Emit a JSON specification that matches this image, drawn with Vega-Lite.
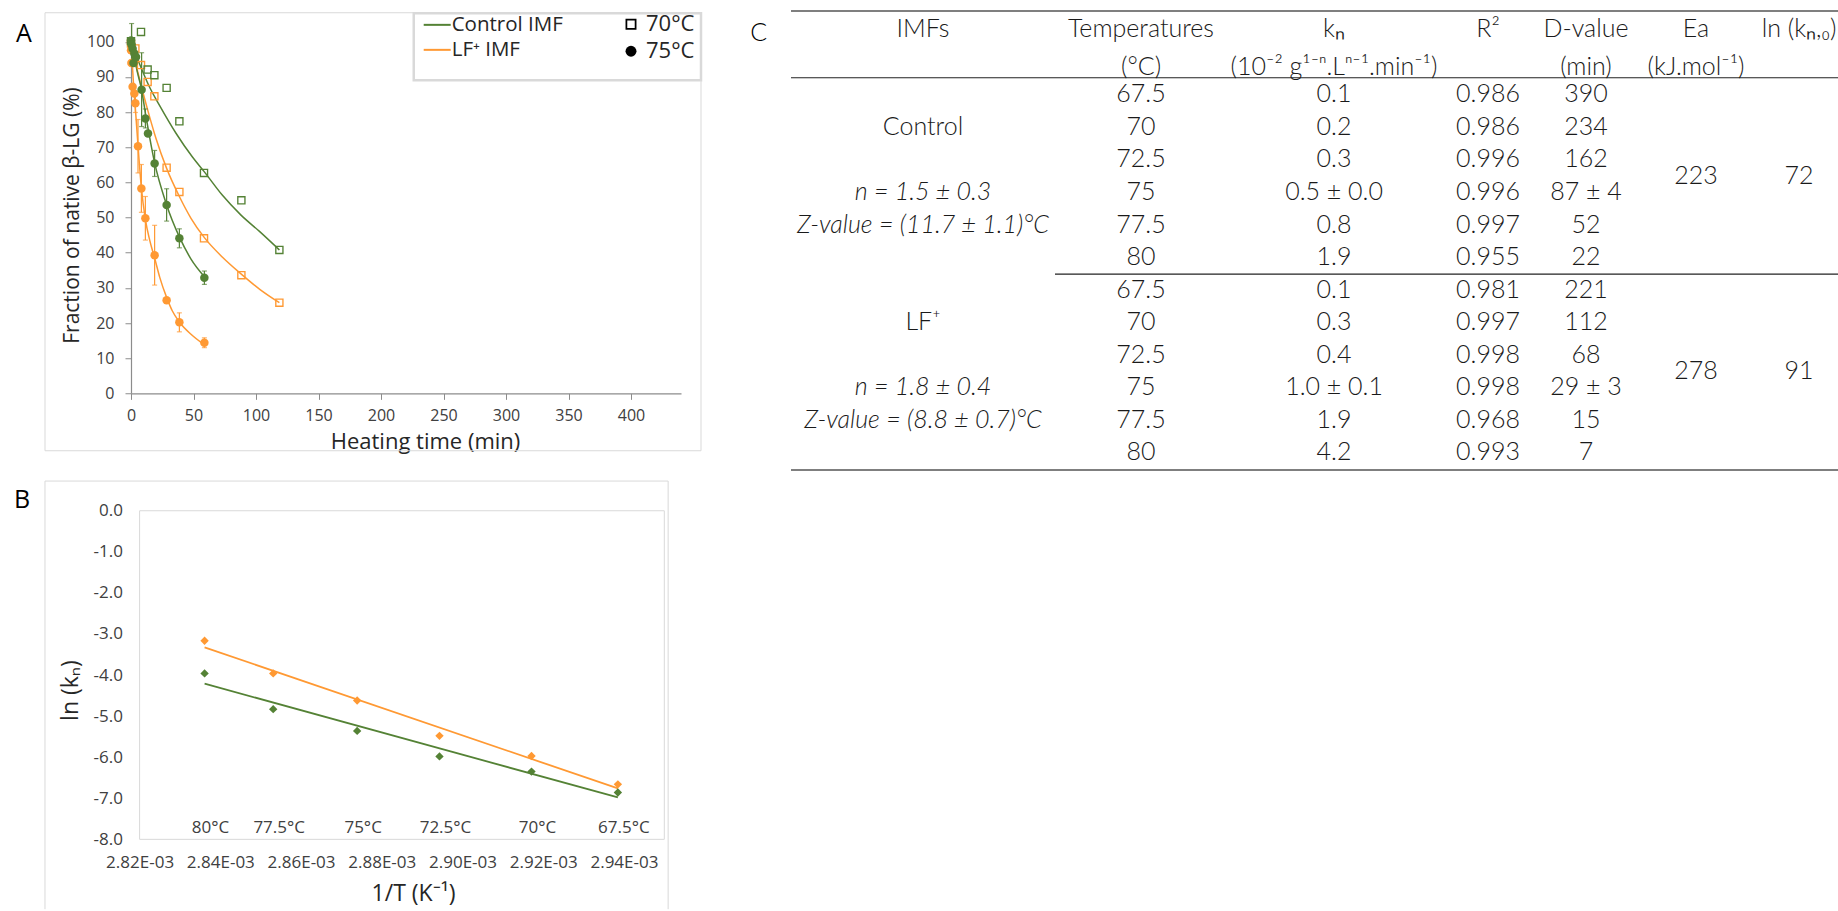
{
"$schema": "https://vega.github.io/schema/vega-lite/v6.json",
"background": "white",
"padding": {"left": 13, "top": 10.25, "right": 0, "bottom": 0},
"bounds": "flush",
"columns": 2,
"spacing": {"row": 40.5, "column": 110},
"config": {
  "font": "Open Sans",
  "view": {"stroke": null},
  "axis": {"grid": false, "labelFont": "Open Sans", "titleFont": "Open Sans", "titleFontWeight": "normal", "labelColor": "#404040", "titleColor": "#262626", "domainColor": "#8c8c8c", "tickColor": "#8c8c8c", "labelFlush": false, "labelOverlap": false, "labelBound": false},
  "legend": {"labelFont": "Open Sans", "labelColor": "#262626"}
},
"datasets": {
  "pA": [
    {"imf": "LF⁺ IMF", "temp": "70°C", "t": 0, "frac": 99.5},
    {"imf": "LF⁺ IMF", "temp": "70°C", "t": 3.5, "frac": 98.1},
    {"imf": "LF⁺ IMF", "temp": "70°C", "t": 8, "frac": 93.4},
    {"imf": "LF⁺ IMF", "temp": "70°C", "t": 13.3, "frac": 88.6},
    {"imf": "LF⁺ IMF", "temp": "70°C", "t": 18.7, "frac": 84.5},
    {"imf": "LF⁺ IMF", "temp": "70°C", "t": 28.5, "frac": 64.2},
    {"imf": "LF⁺ IMF", "temp": "70°C", "t": 38.7, "frac": 57.3},
    {"imf": "LF⁺ IMF", "temp": "70°C", "t": 58.4, "frac": 44.1},
    {"imf": "LF⁺ IMF", "temp": "70°C", "t": 88.3, "frac": 33.6},
    {"imf": "LF⁺ IMF", "temp": "70°C", "t": 118.7, "frac": 25.8},
    {"imf": "LF⁺ IMF", "temp": "75°C", "t": 0, "frac": 97.6},
    {"imf": "LF⁺ IMF", "temp": "75°C", "t": 0.3, "frac": 94.0},
    {"imf": "LF⁺ IMF", "temp": "75°C", "t": 1.3, "frac": 87.2},
    {"imf": "LF⁺ IMF", "temp": "75°C", "t": 2.7, "frac": 85.3},
    {"imf": "LF⁺ IMF", "temp": "75°C", "t": 3.5, "frac": 82.5, "err": 2.6},
    {"imf": "LF⁺ IMF", "temp": "75°C", "t": 5.6, "frac": 70.3, "err": 7.6},
    {"imf": "LF⁺ IMF", "temp": "75°C", "t": 8.3, "frac": 58.3, "err": 6.8},
    {"imf": "LF⁺ IMF", "temp": "75°C", "t": 11.5, "frac": 49.8, "err": 6.2},
    {"imf": "LF⁺ IMF", "temp": "75°C", "t": 18.9, "frac": 39.3, "err": 8.5},
    {"imf": "LF⁺ IMF", "temp": "75°C", "t": 28.5, "frac": 26.5},
    {"imf": "LF⁺ IMF", "temp": "75°C", "t": 38.7, "frac": 20.2, "err": 2.7},
    {"imf": "LF⁺ IMF", "temp": "75°C", "t": 58.7, "frac": 14.4, "err": 1.4},
    {"imf": "Control IMF", "temp": "70°C", "t": 0, "frac": 100.2},
    {"imf": "Control IMF", "temp": "70°C", "t": 8, "frac": 102.8},
    {"imf": "Control IMF", "temp": "70°C", "t": 13.3, "frac": 92.1},
    {"imf": "Control IMF", "temp": "70°C", "t": 18.7, "frac": 90.5},
    {"imf": "Control IMF", "temp": "70°C", "t": 28.5, "frac": 86.9},
    {"imf": "Control IMF", "temp": "70°C", "t": 38.7, "frac": 77.4},
    {"imf": "Control IMF", "temp": "70°C", "t": 58.4, "frac": 62.7},
    {"imf": "Control IMF", "temp": "70°C", "t": 88.3, "frac": 54.9},
    {"imf": "Control IMF", "temp": "70°C", "t": 118.7, "frac": 40.8},
    {"imf": "Control IMF", "temp": "75°C", "t": 0, "frac": 100.4},
    {"imf": "Control IMF", "temp": "75°C", "t": 0.5, "frac": 99.2, "err": 6},
    {"imf": "Control IMF", "temp": "75°C", "t": 1.3, "frac": 98.0},
    {"imf": "Control IMF", "temp": "75°C", "t": 2, "frac": 94.0},
    {"imf": "Control IMF", "temp": "75°C", "t": 2.7, "frac": 96.7},
    {"imf": "Control IMF", "temp": "75°C", "t": 4, "frac": 95.7},
    {"imf": "Control IMF", "temp": "75°C", "t": 8.5, "frac": 86.4, "err": 10.5},
    {"imf": "Control IMF", "temp": "75°C", "t": 11.5, "frac": 78.2, "err": 2.7},
    {"imf": "Control IMF", "temp": "75°C", "t": 13.6, "frac": 73.9},
    {"imf": "Control IMF", "temp": "75°C", "t": 18.9, "frac": 65.4, "err": 3.7},
    {"imf": "Control IMF", "temp": "75°C", "t": 28.5, "frac": 53.6, "err": 4.6},
    {"imf": "Control IMF", "temp": "75°C", "t": 38.7, "frac": 44.1, "err": 2.7},
    {"imf": "Control IMF", "temp": "75°C", "t": 58.7, "frac": 32.9, "err": 1.9}
  ],
  "cA": [
    {"imf": "Control IMF", "temp": "70°C", "t": 0, "frac": 100},
    {"imf": "Control IMF", "temp": "70°C", "t": 5, "frac": 95.3},
    {"imf": "Control IMF", "temp": "70°C", "t": 10, "frac": 91},
    {"imf": "Control IMF", "temp": "70°C", "t": 15, "frac": 87},
    {"imf": "Control IMF", "temp": "70°C", "t": 22.7, "frac": 82},
    {"imf": "Control IMF", "temp": "70°C", "t": 36, "frac": 74},
    {"imf": "Control IMF", "temp": "70°C", "t": 49, "frac": 67.3},
    {"imf": "Control IMF", "temp": "70°C", "t": 58.7, "frac": 63},
    {"imf": "Control IMF", "temp": "70°C", "t": 73, "frac": 56.4},
    {"imf": "Control IMF", "temp": "70°C", "t": 88, "frac": 50.7},
    {"imf": "Control IMF", "temp": "70°C", "t": 103, "frac": 46},
    {"imf": "Control IMF", "temp": "70°C", "t": 118.7, "frac": 40.8},
    {"imf": "LF⁺ IMF", "temp": "70°C", "t": 0, "frac": 99},
    {"imf": "LF⁺ IMF", "temp": "70°C", "t": 5, "frac": 92},
    {"imf": "LF⁺ IMF", "temp": "70°C", "t": 10, "frac": 85},
    {"imf": "LF⁺ IMF", "temp": "70°C", "t": 15, "frac": 78.5},
    {"imf": "LF⁺ IMF", "temp": "70°C", "t": 20, "frac": 72.5},
    {"imf": "LF⁺ IMF", "temp": "70°C", "t": 28.5, "frac": 64},
    {"imf": "LF⁺ IMF", "temp": "70°C", "t": 38.7, "frac": 56},
    {"imf": "LF⁺ IMF", "temp": "70°C", "t": 48, "frac": 49.8},
    {"imf": "LF⁺ IMF", "temp": "70°C", "t": 58.7, "frac": 44.3},
    {"imf": "LF⁺ IMF", "temp": "70°C", "t": 73, "frac": 38.8},
    {"imf": "LF⁺ IMF", "temp": "70°C", "t": 88, "frac": 34},
    {"imf": "LF⁺ IMF", "temp": "70°C", "t": 103, "frac": 29.6},
    {"imf": "LF⁺ IMF", "temp": "70°C", "t": 118.7, "frac": 25.8},
    {"imf": "Control IMF", "temp": "75°C", "t": 0, "frac": 100.5},
    {"imf": "Control IMF", "temp": "75°C", "t": 2, "frac": 97},
    {"imf": "Control IMF", "temp": "75°C", "t": 5, "frac": 91.5},
    {"imf": "Control IMF", "temp": "75°C", "t": 8, "frac": 87.2},
    {"imf": "Control IMF", "temp": "75°C", "t": 12, "frac": 78.7},
    {"imf": "Control IMF", "temp": "75°C", "t": 18.7, "frac": 65.9},
    {"imf": "Control IMF", "temp": "75°C", "t": 28.5, "frac": 53.6},
    {"imf": "Control IMF", "temp": "75°C", "t": 38.7, "frac": 44.5},
    {"imf": "Control IMF", "temp": "75°C", "t": 48, "frac": 38.2},
    {"imf": "Control IMF", "temp": "75°C", "t": 58.7, "frac": 33.2},
    {"imf": "LF⁺ IMF", "temp": "75°C", "t": 0, "frac": 100},
    {"imf": "LF⁺ IMF", "temp": "75°C", "t": 1, "frac": 94},
    {"imf": "LF⁺ IMF", "temp": "75°C", "t": 2, "frac": 88},
    {"imf": "LF⁺ IMF", "temp": "75°C", "t": 3.5, "frac": 81},
    {"imf": "LF⁺ IMF", "temp": "75°C", "t": 5.6, "frac": 70.5},
    {"imf": "LF⁺ IMF", "temp": "75°C", "t": 8.3, "frac": 58.5},
    {"imf": "LF⁺ IMF", "temp": "75°C", "t": 11.5, "frac": 49.5},
    {"imf": "LF⁺ IMF", "temp": "75°C", "t": 15, "frac": 43.5},
    {"imf": "LF⁺ IMF", "temp": "75°C", "t": 18.9, "frac": 38.5},
    {"imf": "LF⁺ IMF", "temp": "75°C", "t": 23, "frac": 33},
    {"imf": "LF⁺ IMF", "temp": "75°C", "t": 28.5, "frac": 27.3},
    {"imf": "LF⁺ IMF", "temp": "75°C", "t": 33, "frac": 23.5},
    {"imf": "LF⁺ IMF", "temp": "75°C", "t": 38.7, "frac": 20.3},
    {"imf": "LF⁺ IMF", "temp": "75°C", "t": 48, "frac": 16.8},
    {"imf": "LF⁺ IMF", "temp": "75°C", "t": 58.7, "frac": 13.8}
  ],
  "pB": [
    {"imf": "LF⁺ IMF", "temp": "80°C", "invT": 0.0028361, "ln": -3.165},
    {"imf": "LF⁺ IMF", "temp": "77.5°C", "invT": 0.0028531, "ln": -3.96},
    {"imf": "LF⁺ IMF", "temp": "75°C", "invT": 0.0028739, "ln": -4.62},
    {"imf": "LF⁺ IMF", "temp": "72.5°C", "invT": 0.0028943, "ln": -5.48},
    {"imf": "LF⁺ IMF", "temp": "70°C", "invT": 0.0029171, "ln": -5.97},
    {"imf": "LF⁺ IMF", "temp": "67.5°C", "invT": 0.0029385, "ln": -6.66},
    {"imf": "Control IMF", "temp": "80°C", "invT": 0.0028361, "ln": -3.96},
    {"imf": "Control IMF", "temp": "77.5°C", "invT": 0.0028531, "ln": -4.83},
    {"imf": "Control IMF", "temp": "75°C", "invT": 0.0028739, "ln": -5.36},
    {"imf": "Control IMF", "temp": "72.5°C", "invT": 0.0028943, "ln": -5.98},
    {"imf": "Control IMF", "temp": "70°C", "invT": 0.0029171, "ln": -6.35},
    {"imf": "Control IMF", "temp": "67.5°C", "invT": 0.0029385, "ln": -6.86}
  ],
  "fB": [
    {"imf": "LF⁺ IMF", "invT": 0.0028361, "ln": -3.325},
    {"imf": "LF⁺ IMF", "invT": 0.0029385, "ln": -6.76},
    {"imf": "Control IMF", "invT": 0.0028361, "ln": -4.21},
    {"imf": "Control IMF", "invT": 0.0029385, "ln": -6.98}
  ],
  "tC": [
    {"col": 1, "row": 1, "text": "IMFs"},
    {"col": 2, "row": 1, "text": "Temperatures"},
    {"col": 2, "row": 2, "text": "(°C)"},
    {"col": 3, "row": 1, "text": "kₙ"},
    {"col": 3, "row": 2, "text": "(10⁻² g¹⁻ⁿ.Lⁿ⁻¹.min⁻¹)"},
    {"col": 4, "row": 1, "text": "R²"},
    {"col": 5, "row": 1, "text": "D-value"},
    {"col": 5, "row": 2, "text": "(min)"},
    {"col": 6, "row": 1, "text": "Ea"},
    {"col": 6, "row": 2, "text": "(kJ.mol⁻¹)"},
    {"col": 7, "row": 1, "text": "ln (kₙ,₀)"},
    {"col": 1, "row": 4, "text": "Control"},
    {"col": 1, "row": 6, "text": "n = 1.5 ± 0.3", "kind": "param"},
    {"col": 1, "row": 7, "text": "Z-value = (11.7 ± 1.1)°C", "kind": "param"},
    {"col": 1, "row": 10, "text": "LF⁺"},
    {"col": 1, "row": 12, "text": "n = 1.8 ± 0.4", "kind": "param"},
    {"col": 1, "row": 13, "text": "Z-value = (8.8 ± 0.7)°C", "kind": "param"},
    {"col": 2, "row": 3, "text": "67.5"}, {"col": 2, "row": 4, "text": "70"}, {"col": 2, "row": 5, "text": "72.5"},
    {"col": 2, "row": 6, "text": "75"}, {"col": 2, "row": 7, "text": "77.5"}, {"col": 2, "row": 8, "text": "80"},
    {"col": 2, "row": 9, "text": "67.5"}, {"col": 2, "row": 10, "text": "70"}, {"col": 2, "row": 11, "text": "72.5"},
    {"col": 2, "row": 12, "text": "75"}, {"col": 2, "row": 13, "text": "77.5"}, {"col": 2, "row": 14, "text": "80"},
    {"col": 3, "row": 3, "text": "0.1"}, {"col": 3, "row": 4, "text": "0.2"}, {"col": 3, "row": 5, "text": "0.3"},
    {"col": 3, "row": 6, "text": "0.5 ± 0.0"}, {"col": 3, "row": 7, "text": "0.8"}, {"col": 3, "row": 8, "text": "1.9"},
    {"col": 3, "row": 9, "text": "0.1"}, {"col": 3, "row": 10, "text": "0.3"}, {"col": 3, "row": 11, "text": "0.4"},
    {"col": 3, "row": 12, "text": "1.0 ± 0.1"}, {"col": 3, "row": 13, "text": "1.9"}, {"col": 3, "row": 14, "text": "4.2"},
    {"col": 4, "row": 3, "text": "0.986"}, {"col": 4, "row": 4, "text": "0.986"}, {"col": 4, "row": 5, "text": "0.996"},
    {"col": 4, "row": 6, "text": "0.996"}, {"col": 4, "row": 7, "text": "0.997"}, {"col": 4, "row": 8, "text": "0.955"},
    {"col": 4, "row": 9, "text": "0.981"}, {"col": 4, "row": 10, "text": "0.997"}, {"col": 4, "row": 11, "text": "0.998"},
    {"col": 4, "row": 12, "text": "0.998"}, {"col": 4, "row": 13, "text": "0.968"}, {"col": 4, "row": 14, "text": "0.993"},
    {"col": 5, "row": 3, "text": "390"}, {"col": 5, "row": 4, "text": "234"}, {"col": 5, "row": 5, "text": "162"},
    {"col": 5, "row": 6, "text": "87 ± 4"}, {"col": 5, "row": 7, "text": "52"}, {"col": 5, "row": 8, "text": "22"},
    {"col": 5, "row": 9, "text": "221"}, {"col": 5, "row": 10, "text": "112"}, {"col": 5, "row": 11, "text": "68"},
    {"col": 5, "row": 12, "text": "29 ± 3"}, {"col": 5, "row": 13, "text": "15"}, {"col": 5, "row": 14, "text": "7"},
    {"col": 6, "row": 5.5, "text": "223"}, {"col": 6, "row": 11.5, "text": "278"},
    {"col": 7, "row": 5.5, "text": "72"}, {"col": 7, "row": 11.5, "text": "91"}
  ]
},
"resolve": {"scale": {"color": "independent", "shape": "independent"}, "legend": {"color": "independent", "shape": "independent"}},
"concat": [
  {
    "width": 550,
    "height": 369.1,
    "layer": [
      {
        "data": {"values": [{}]},
        "mark": {"type": "rect", "fillOpacity": 0, "stroke": "#d9d9d9", "strokeWidth": 1},
        "encoding": {
          "x": {"datum": -68.8, "type": "quantitative", "scale": {"domain": [0, 440], "nice": false, "zero": false},
                "axis": {"values": [0, 50, 100, 150, 200, 250, 300, 350, 400], "title": "Heating time (min)", "labelFontSize": 16, "titleFontSize": 22, "tickSize": 6, "labelPadding": 8, "titlePadding": 8, "titleX": 294, "domainWidth": 1.2}},
          "x2": {"datum": 456},
          "y": {"datum": -16.33, "type": "quantitative", "scale": {"domain": [0, 105], "nice": false, "zero": false},
                "axis": {"values": [0, 10, 20, 30, 40, 50, 60, 70, 80, 90, 100], "title": "Fraction of native β-LG (%)", "labelFontSize": 16, "titleFontSize": 21, "tickSize": 6, "labelPadding": 11, "titlePadding": 4, "titleY": 190.8, "domainWidth": 1.2}},
          "y2": {"datum": 108.27}
        }
      },
      {
        "data": {"values": [{}]},
        "mark": {"type": "rect", "fill": "white", "stroke": "#d9d9d9", "strokeWidth": 2.5},
        "encoding": {
          "x": {"datum": 226.2, "type": "quantitative", "scale": {"domain": [0, 440], "nice": false, "zero": false},
                "axis": {"values": [0, 50, 100, 150, 200, 250, 300, 350, 400], "title": "Heating time (min)", "labelFontSize": 16, "titleFontSize": 22, "tickSize": 6, "labelPadding": 8, "titlePadding": 8, "titleX": 294, "domainWidth": 1.2}},
          "x2": {"datum": 456},
          "y": {"datum": 89.1, "type": "quantitative", "scale": {"domain": [0, 105], "nice": false, "zero": false},
                "axis": {"values": [0, 10, 20, 30, 40, 50, 60, 70, 80, 90, 100], "title": "Fraction of native β-LG (%)", "labelFontSize": 16, "titleFontSize": 21, "tickSize": 6, "labelPadding": 11, "titlePadding": 4, "titleY": 190.8, "domainWidth": 1.2}},
          "y2": {"datum": 108.1}
        }
      },
      {
        "data": {"values": [{}]},
        "mark": {"type": "text", "font": "Open Sans", "fontSize": 25, "color": "#000000", "align": "left", "baseline": "alphabetic"},
        "encoding": {
          "x": {"datum": -92, "type": "quantitative", "scale": {"domain": [0, 440], "nice": false, "zero": false},
                "axis": {"values": [0, 50, 100, 150, 200, 250, 300, 350, 400], "title": "Heating time (min)", "labelFontSize": 16, "titleFontSize": 22, "tickSize": 6, "labelPadding": 8, "titlePadding": 8, "titleX": 294, "domainWidth": 1.2}},
          "y": {"datum": 100.02, "type": "quantitative", "scale": {"domain": [0, 105], "nice": false, "zero": false},
                "axis": {"values": [0, 10, 20, 30, 40, 50, 60, 70, 80, 90, 100], "title": "Fraction of native β-LG (%)", "labelFontSize": 16, "titleFontSize": 21, "tickSize": 6, "labelPadding": 11, "titlePadding": 4, "titleY": 190.8, "domainWidth": 1.2}},
          "text": {"value": "A"}
        }
      },
      {
        "data": {"name": "cA"},
        "mark": {"type": "line", "interpolate": "monotone", "strokeWidth": 1.5},
        "encoding": {
          "x": {"field": "t", "type": "quantitative", "scale": {"domain": [0, 440], "nice": false, "zero": false},
                "axis": {"values": [0, 50, 100, 150, 200, 250, 300, 350, 400], "title": "Heating time (min)", "labelFontSize": 16, "titleFontSize": 22, "tickSize": 6, "labelPadding": 8, "titlePadding": 8, "titleX": 294, "domainWidth": 1.2}},
          "y": {"field": "frac", "type": "quantitative", "scale": {"domain": [0, 105], "nice": false, "zero": false},
                "axis": {"values": [0, 10, 20, 30, 40, 50, 60, 70, 80, 90, 100], "title": "Fraction of native β-LG (%)", "labelFontSize": 16, "titleFontSize": 21, "tickSize": 6, "labelPadding": 11, "titlePadding": 4, "titleY": 190.8, "domainWidth": 1.2}},
          "color": {"field": "imf", "type": "nominal", "scale": {"domain": ["Control IMF", "LF⁺ IMF"], "range": ["#548235", "#FF9933"]},
                    "legend": {"orient": "none", "legendX": 291.7, "legendY": -13.9, "title": null, "symbolType": "stroke", "symbolSize": 729, "symbolStrokeWidth": 2, "labelFontSize": 20.5, "labelOffset": 0, "rowPadding": -3.2, "padding": 0}},
          "detail": {"field": "temp", "type": "nominal"}
        }
      },
      {
        "data": {"name": "pA"},
        "transform": [{"filter": "isValid(datum.err)"}],
        "mark": {"type": "errorbar", "ticks": {"size": 5}, "thickness": 1.2},
        "encoding": {
          "x": {"field": "t", "type": "quantitative", "scale": {"domain": [0, 440], "nice": false, "zero": false},
                "axis": {"values": [0, 50, 100, 150, 200, 250, 300, 350, 400], "title": "Heating time (min)", "labelFontSize": 16, "titleFontSize": 22, "tickSize": 6, "labelPadding": 8, "titlePadding": 8, "titleX": 294, "domainWidth": 1.2}},
          "y": {"field": "frac", "type": "quantitative", "scale": {"domain": [0, 105], "nice": false, "zero": false},
                "axis": {"values": [0, 10, 20, 30, 40, 50, 60, 70, 80, 90, 100], "title": "Fraction of native β-LG (%)", "labelFontSize": 16, "titleFontSize": 21, "tickSize": 6, "labelPadding": 11, "titlePadding": 4, "titleY": 190.8, "domainWidth": 1.2}},
          "yError": {"field": "err"},
          "color": {"field": "imf", "type": "nominal", "scale": {"domain": ["Control IMF", "LF⁺ IMF"], "range": ["#548235", "#FF9933"]}, "legend": null}
        }
      },
      {
        "data": {"name": "pA"},
        "mark": {"type": "point", "filled": true, "opacity": 1, "size": 72},
        "encoding": {
          "x": {"field": "t", "type": "quantitative", "scale": {"domain": [0, 440], "nice": false, "zero": false},
                "axis": {"values": [0, 50, 100, 150, 200, 250, 300, 350, 400], "title": "Heating time (min)", "labelFontSize": 16, "titleFontSize": 22, "tickSize": 6, "labelPadding": 8, "titlePadding": 8, "titleX": 294, "domainWidth": 1.2}},
          "y": {"field": "frac", "type": "quantitative", "scale": {"domain": [0, 105], "nice": false, "zero": false},
                "axis": {"values": [0, 10, 20, 30, 40, 50, 60, 70, 80, 90, 100], "title": "Fraction of native β-LG (%)", "labelFontSize": 16, "titleFontSize": 21, "tickSize": 6, "labelPadding": 11, "titlePadding": 4, "titleY": 190.8, "domainWidth": 1.2}},
          "color": {"field": "imf", "type": "nominal", "scale": {"domain": ["Control IMF", "LF⁺ IMF"], "range": ["#548235", "#FF9933"]}, "legend": null},
          "shape": {"field": "temp", "type": "nominal",
                    "scale": {"domain": ["70°C", "75°C"], "range": ["M-1,-1H1V1H-1Z M-0.68,-0.68V0.68H0.68V-0.68Z", "circle"]},
                    "legend": {"orient": "none", "legendX": 489, "legendY": -11, "title": null, "symbolSize": 120, "symbolFillColor": "#000000", "symbolStrokeWidth": 0, "labelFontSize": 22, "labelOffset": 4, "rowPadding": 5, "padding": 0}}
        }
      }
    ]
  },
  {
    "width": 1047,
    "height": 446,
    "layer": [
      {
        "data": {"values": [{}]},
        "mark": {"type": "rule", "stroke": "#555555", "strokeWidth": 1.5},
        "encoding": {"y": {"datum": 0.5225, "type": "quantitative", "scale": {"domain": [1, 2, 3, 14], "range": [4.8, 42.5, 70.1, 428.1], "nice": false, "zero": false}, "axis": null}}
      },
      {
        "data": {"values": [{}]},
        "mark": {"type": "rule", "stroke": "#222222", "strokeWidth": 1.2},
        "encoding": {"y": {"datum": 2.3986, "type": "quantitative", "scale": {"domain": [1, 2, 3, 14], "range": [4.8, 42.5, 70.1, 428.1], "nice": false, "zero": false}, "axis": null}}
      },
      {
        "data": {"values": [{}]},
        "mark": {"type": "rule", "stroke": "#222222", "strokeWidth": 1.2},
        "encoding": {
          "x": {"datum": 1.6055, "type": "quantitative", "scale": {"domain": [1, 2, 3, 4, 5, 6, 7], "range": [132, 350, 543, 697, 795, 905, 1008], "nice": false, "zero": false}, "axis": null},
          "x2": {"datum": 7.379},
          "y": {"datum": 8.5216, "type": "quantitative", "scale": {"domain": [1, 2, 3, 14], "range": [4.8, 42.5, 70.1, 428.1], "nice": false, "zero": false}, "axis": null}
        }
      },
      {
        "data": {"values": [{}]},
        "mark": {"type": "rule", "stroke": "#555555", "strokeWidth": 1.5},
        "encoding": {"y": {"datum": 14.544, "type": "quantitative", "scale": {"domain": [1, 2, 3, 14], "range": [4.8, 42.5, 70.1, 428.1], "nice": false, "zero": false}, "axis": null}}
      },
      {
        "data": {"values": [{}]},
        "mark": {"type": "text", "font": "Lato", "fontWeight": 300, "fontSize": 25, "color": "#000000", "align": "left", "baseline": "alphabetic"},
        "encoding": {
          "x": {"datum": 0.2078, "type": "quantitative", "scale": {"domain": [1, 2, 3, 4, 5, 6, 7], "range": [132, 350, 543, 697, 795, 905, 1008], "nice": false, "zero": false}, "axis": null},
          "y": {"datum": 1.31, "type": "quantitative", "scale": {"domain": [1, 2, 3, 14], "range": [4.8, 42.5, 70.1, 428.1], "nice": false, "zero": false}, "axis": null},
          "text": {"value": "C"}
        }
      },
      {
        "data": {"name": "tC"},
        "transform": [{"filter": "datum.kind !== 'param'"}],
        "mark": {"type": "text", "font": "Lato", "fontWeight": 300, "fontSize": 25, "color": "#1a1a1a", "align": "center", "baseline": "middle"},
        "encoding": {
          "x": {"field": "col", "type": "quantitative", "scale": {"domain": [1, 2, 3, 4, 5, 6, 7], "range": [132, 350, 543, 697, 795, 905, 1008], "nice": false, "zero": false}, "axis": null},
          "y": {"field": "row", "type": "quantitative", "scale": {"domain": [1, 2, 3, 14], "range": [4.8, 42.5, 70.1, 428.1], "nice": false, "zero": false}, "axis": null},
          "text": {"field": "text"}
        }
      },
      {
        "data": {"name": "tC"},
        "transform": [{"filter": "datum.kind === 'param'"}],
        "mark": {"type": "text", "font": "Lato", "fontWeight": 300, "fontStyle": "italic", "fontSize": 25, "color": "#1a1a1a", "align": "center", "baseline": "middle"},
        "encoding": {
          "x": {"field": "col", "type": "quantitative", "scale": {"domain": [1, 2, 3, 4, 5, 6, 7], "range": [132, 350, 543, 697, 795, 905, 1008], "nice": false, "zero": false}, "axis": null},
          "y": {"field": "row", "type": "quantitative", "scale": {"domain": [1, 2, 3, 14], "range": [4.8, 42.5, 70.1, 428.1], "nice": false, "zero": false}, "axis": null},
          "text": {"field": "text"}
        }
      }
    ]
  },
  {
    "width": 533.3,
    "height": 328.6,
    "layer": [
      {
        "data": {"values": [{}]},
        "mark": {"type": "rule", "stroke": "#d9d9d9", "strokeWidth": 1},
        "encoding": {
          "x": {"datum": 0.002796556, "type": "quantitative", "scale": {"domain": [0.002817869, 0.00295], "nice": false, "zero": false},
                "axis": {"values": [0.00282, 0.00284, 0.00286, 0.00288, 0.0029, 0.00292, 0.00294], "labelExpr": "format(datum.value * 1000, '.2f') + 'E-03'", "domain": false, "ticks": false, "tickSize": 0, "labelPadding": 15.5, "labelFontSize": 17, "title": "1/T (K⁻¹)", "titleFontSize": 23, "titlePadding": 12, "titleX": 282}},
          "y": {"datum": 0.723, "type": "quantitative", "scale": {"domain": [-8, 0], "nice": false, "zero": false},
                "axis": {"values": [-8, -7, -6, -5, -4, -3, -2, -1, 0], "labelExpr": "(datum.value < 0 ? '-' : '') + format(abs(datum.value), '.1f')", "domain": false, "ticks": false, "tickSize": 0, "labelPadding": 8.6, "labelFontSize": 17, "title": "ln (kₙ)", "titleFontSize": 23, "titlePadding": 11, "titleY": 179.3}},
          "y2": {"datum": -9.7}
        }
      },
      {
        "data": {"values": [{}]},
        "mark": {"type": "rule", "stroke": "#d9d9d9", "strokeWidth": 1},
        "encoding": {
          "x": {"datum": 0.002950955, "type": "quantitative", "scale": {"domain": [0.002817869, 0.00295], "nice": false, "zero": false},
                "axis": {"values": [0.00282, 0.00284, 0.00286, 0.00288, 0.0029, 0.00292, 0.00294], "labelExpr": "format(datum.value * 1000, '.2f') + 'E-03'", "domain": false, "ticks": false, "tickSize": 0, "labelPadding": 15.5, "labelFontSize": 17, "title": "1/T (K⁻¹)", "titleFontSize": 23, "titlePadding": 12, "titleX": 282}},
          "y": {"datum": 0.723, "type": "quantitative", "scale": {"domain": [-8, 0], "nice": false, "zero": false},
                "axis": {"values": [-8, -7, -6, -5, -4, -3, -2, -1, 0], "labelExpr": "(datum.value < 0 ? '-' : '') + format(abs(datum.value), '.1f')", "domain": false, "ticks": false, "tickSize": 0, "labelPadding": 8.6, "labelFontSize": 17, "title": "ln (kₙ)", "titleFontSize": 23, "titlePadding": 11, "titleY": 179.3}},
          "y2": {"datum": -9.7}
        }
      },
      {
        "data": {"values": [{}]},
        "mark": {"type": "rule", "stroke": "#d9d9d9", "strokeWidth": 1},
        "encoding": {
          "x": {"datum": 0.002796556, "type": "quantitative", "scale": {"domain": [0.002817869, 0.00295], "nice": false, "zero": false},
                "axis": {"values": [0.00282, 0.00284, 0.00286, 0.00288, 0.0029, 0.00292, 0.00294], "labelExpr": "format(datum.value * 1000, '.2f') + 'E-03'", "domain": false, "ticks": false, "tickSize": 0, "labelPadding": 15.5, "labelFontSize": 17, "title": "1/T (K⁻¹)", "titleFontSize": 23, "titlePadding": 12, "titleX": 282}},
          "x2": {"datum": 0.002950955},
          "y": {"datum": 0.723, "type": "quantitative", "scale": {"domain": [-8, 0], "nice": false, "zero": false},
                "axis": {"values": [-8, -7, -6, -5, -4, -3, -2, -1, 0], "labelExpr": "(datum.value < 0 ? '-' : '') + format(abs(datum.value), '.1f')", "domain": false, "ticks": false, "tickSize": 0, "labelPadding": 8.6, "labelFontSize": 17, "title": "ln (kₙ)", "titleFontSize": 23, "titlePadding": 11, "titleY": 179.3}}
        }
      },
      {
        "data": {"values": [{}]},
        "mark": {"type": "rect", "fillOpacity": 0, "stroke": "#d9d9d9", "strokeWidth": 1},
        "encoding": {
          "x": {"datum": 0.00282, "type": "quantitative", "scale": {"domain": [0.002817869, 0.00295], "nice": false, "zero": false},
                "axis": {"values": [0.00282, 0.00284, 0.00286, 0.00288, 0.0029, 0.00292, 0.00294], "labelExpr": "format(datum.value * 1000, '.2f') + 'E-03'", "domain": false, "ticks": false, "tickSize": 0, "labelPadding": 15.5, "labelFontSize": 17, "title": "1/T (K⁻¹)", "titleFontSize": 23, "titlePadding": 12, "titleX": 282}},
          "x2": {"datum": 0.00295},
          "y": {"datum": -8, "type": "quantitative", "scale": {"domain": [-8, 0], "nice": false, "zero": false},
                "axis": {"values": [-8, -7, -6, -5, -4, -3, -2, -1, 0], "labelExpr": "(datum.value < 0 ? '-' : '') + format(abs(datum.value), '.1f')", "domain": false, "ticks": false, "tickSize": 0, "labelPadding": 8.6, "labelFontSize": 17, "title": "ln (kₙ)", "titleFontSize": 23, "titlePadding": 11, "titleY": 179.3}},
          "y2": {"datum": 0}
        }
      },
      {
        "data": {"values": [{}]},
        "mark": {"type": "text", "font": "Open Sans", "fontSize": 25, "color": "#000000", "align": "left", "baseline": "alphabetic"},
        "encoding": {
          "x": {"datum": 0.002788873, "type": "quantitative", "scale": {"domain": [0.002817869, 0.00295], "nice": false, "zero": false},
                "axis": {"values": [0.00282, 0.00284, 0.00286, 0.00288, 0.0029, 0.00292, 0.00294], "labelExpr": "format(datum.value * 1000, '.2f') + 'E-03'", "domain": false, "ticks": false, "tickSize": 0, "labelPadding": 15.5, "labelFontSize": 17, "title": "1/T (K⁻¹)", "titleFontSize": 23, "titlePadding": 12, "titleX": 282}},
          "y": {"datum": 0.058, "type": "quantitative", "scale": {"domain": [-8, 0], "nice": false, "zero": false},
                "axis": {"values": [-8, -7, -6, -5, -4, -3, -2, -1, 0], "labelExpr": "(datum.value < 0 ? '-' : '') + format(abs(datum.value), '.1f')", "domain": false, "ticks": false, "tickSize": 0, "labelPadding": 8.6, "labelFontSize": 17, "title": "ln (kₙ)", "titleFontSize": 23, "titlePadding": 11, "titleY": 179.3}},
          "text": {"value": "B"}
        }
      },
      {
        "data": {"name": "fB"},
        "mark": {"type": "line", "strokeWidth": 1.8},
        "encoding": {
          "x": {"field": "invT", "type": "quantitative", "scale": {"domain": [0.002817869, 0.00295], "nice": false, "zero": false},
                "axis": {"values": [0.00282, 0.00284, 0.00286, 0.00288, 0.0029, 0.00292, 0.00294], "labelExpr": "format(datum.value * 1000, '.2f') + 'E-03'", "domain": false, "ticks": false, "tickSize": 0, "labelPadding": 15.5, "labelFontSize": 17, "title": "1/T (K⁻¹)", "titleFontSize": 23, "titlePadding": 12, "titleX": 282}},
          "y": {"field": "ln", "type": "quantitative", "scale": {"domain": [-8, 0], "nice": false, "zero": false},
                "axis": {"values": [-8, -7, -6, -5, -4, -3, -2, -1, 0], "labelExpr": "(datum.value < 0 ? '-' : '') + format(abs(datum.value), '.1f')", "domain": false, "ticks": false, "tickSize": 0, "labelPadding": 8.6, "labelFontSize": 17, "title": "ln (kₙ)", "titleFontSize": 23, "titlePadding": 11, "titleY": 179.3}},
          "color": {"field": "imf", "type": "nominal", "scale": {"domain": ["Control IMF", "LF⁺ IMF"], "range": ["#548235", "#FF9933"]}, "legend": null}
        }
      },
      {
        "data": {"name": "pB"},
        "mark": {"type": "point", "shape": "diamond", "filled": true, "opacity": 1, "size": 70},
        "encoding": {
          "x": {"field": "invT", "type": "quantitative", "scale": {"domain": [0.002817869, 0.00295], "nice": false, "zero": false},
                "axis": {"values": [0.00282, 0.00284, 0.00286, 0.00288, 0.0029, 0.00292, 0.00294], "labelExpr": "format(datum.value * 1000, '.2f') + 'E-03'", "domain": false, "ticks": false, "tickSize": 0, "labelPadding": 15.5, "labelFontSize": 17, "title": "1/T (K⁻¹)", "titleFontSize": 23, "titlePadding": 12, "titleX": 282}},
          "y": {"field": "ln", "type": "quantitative", "scale": {"domain": [-8, 0], "nice": false, "zero": false},
                "axis": {"values": [-8, -7, -6, -5, -4, -3, -2, -1, 0], "labelExpr": "(datum.value < 0 ? '-' : '') + format(abs(datum.value), '.1f')", "domain": false, "ticks": false, "tickSize": 0, "labelPadding": 8.6, "labelFontSize": 17, "title": "ln (kₙ)", "titleFontSize": 23, "titlePadding": 11, "titleY": 179.3}},
          "color": {"field": "imf", "type": "nominal", "scale": {"domain": ["Control IMF", "LF⁺ IMF"], "range": ["#548235", "#FF9933"]}, "legend": null}
        }
      },
      {
        "data": {"name": "pB"},
        "transform": [{"filter": "datum.imf === 'Control IMF'"}],
        "mark": {"type": "text", "font": "Open Sans", "fontSize": 17, "color": "#404040", "dx": 6, "baseline": "middle"},
        "encoding": {
          "x": {"field": "invT", "type": "quantitative", "scale": {"domain": [0.002817869, 0.00295], "nice": false, "zero": false},
                "axis": {"values": [0.00282, 0.00284, 0.00286, 0.00288, 0.0029, 0.00292, 0.00294], "labelExpr": "format(datum.value * 1000, '.2f') + 'E-03'", "domain": false, "ticks": false, "tickSize": 0, "labelPadding": 15.5, "labelFontSize": 17, "title": "1/T (K⁻¹)", "titleFontSize": 23, "titlePadding": 12, "titleX": 282}},
          "y": {"datum": -7.72, "type": "quantitative", "scale": {"domain": [-8, 0], "nice": false, "zero": false},
                "axis": {"values": [-8, -7, -6, -5, -4, -3, -2, -1, 0], "labelExpr": "(datum.value < 0 ? '-' : '') + format(abs(datum.value), '.1f')", "domain": false, "ticks": false, "tickSize": 0, "labelPadding": 8.6, "labelFontSize": 17, "title": "ln (kₙ)", "titleFontSize": 23, "titlePadding": 11, "titleY": 179.3}},
          "text": {"field": "temp"}
        }
      }
    ]
  }
]
}
